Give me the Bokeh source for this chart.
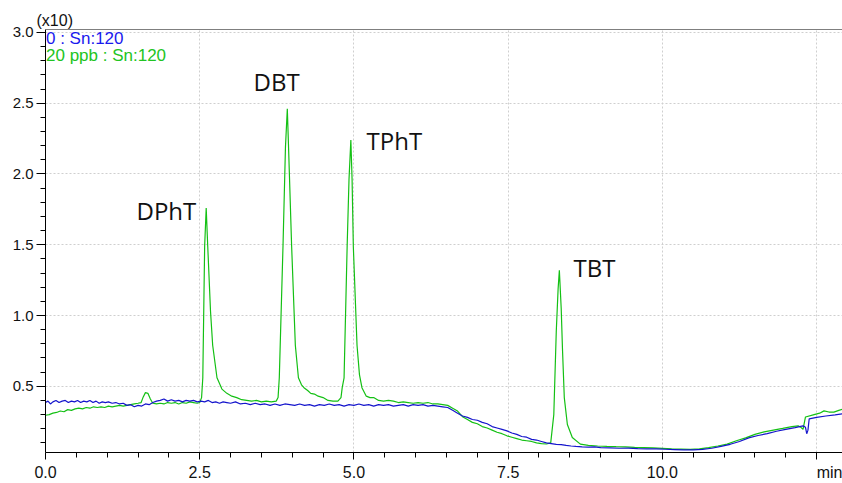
from bokeh.plotting import figure
from bokeh.models import FixedTicker, NumeralTickFormatter, Label, Span, Range1d
from bokeh.embed import file_html
from bokeh.resources import INLINE

# ---- data (retention time in min, intensity x10) ----
blank_t = [0.00, 0.04, 0.08, 0.12, 0.17, 0.22, 0.27, 0.32, 0.37, 0.42, 0.47, 0.52, 0.57, 0.62,
           0.67, 0.72, 0.77, 0.82, 0.87, 0.92, 0.97, 1.02, 1.08, 1.14, 1.20, 1.26, 1.32, 1.38,
           1.44, 1.50, 1.56, 1.62, 1.68, 1.74, 1.80, 1.86, 1.92, 1.98, 2.04, 2.10, 2.16, 2.22,
           2.28, 2.34, 2.40, 2.46, 2.52, 2.58, 2.64, 2.70, 2.76, 2.82, 2.88, 2.94, 3.00, 3.08,
           3.16, 3.24, 3.32, 3.40, 3.48, 3.56, 3.64, 3.72, 3.80, 3.88, 3.96, 4.04, 4.12, 4.20,
           4.28, 4.36, 4.44, 4.52, 4.60, 4.68, 4.76, 4.84, 4.92, 5.00, 5.08, 5.16, 5.24, 5.32,
           5.40, 5.48, 5.56, 5.64, 5.72, 5.80, 5.88, 5.96, 6.04, 6.12, 6.20, 6.28, 6.36, 6.44,
           6.52, 6.60, 6.68, 6.76, 6.84, 6.92, 7.00, 7.08, 7.16, 7.24, 7.32, 7.40, 7.48, 7.56,
           7.64, 7.72, 7.80, 7.88, 7.96, 8.04, 8.12, 8.20, 8.28, 8.36, 8.44, 8.52, 8.60, 8.70,
           8.80, 8.90, 9.00, 9.15, 9.30, 9.45, 9.60, 9.75, 9.90, 10.05, 10.20, 10.35, 10.50,
           10.65, 10.80, 10.95, 11.10, 11.25, 11.40, 11.55, 11.70, 11.85, 12.00, 12.15, 12.28,
           12.32, 12.34, 12.36, 12.38, 12.50, 12.65, 12.80, 12.92]
blank_v = [0.385, 0.395, 0.375, 0.390, 0.400, 0.385, 0.395, 0.400, 0.385, 0.395, 0.390, 0.400,
           0.385, 0.395, 0.390, 0.400, 0.385, 0.395, 0.380, 0.390, 0.385, 0.390, 0.380, 0.385,
           0.375, 0.380, 0.365, 0.370, 0.355, 0.365, 0.360, 0.375, 0.370, 0.385, 0.395, 0.400,
           0.410, 0.395, 0.405, 0.395, 0.400, 0.390, 0.400, 0.395, 0.400, 0.390, 0.395, 0.390,
           0.400, 0.385, 0.390, 0.380, 0.390, 0.385, 0.380, 0.390, 0.375, 0.380, 0.370, 0.380,
           0.370, 0.375, 0.365, 0.375, 0.365, 0.375, 0.370, 0.365, 0.375, 0.365, 0.370, 0.360,
           0.370, 0.365, 0.375, 0.365, 0.370, 0.360, 0.370, 0.365, 0.375, 0.365, 0.370, 0.360,
           0.370, 0.365, 0.370, 0.360, 0.365, 0.370, 0.360, 0.370, 0.365, 0.370, 0.360, 0.365,
           0.360, 0.355, 0.350, 0.330, 0.310, 0.290, 0.280, 0.265, 0.260, 0.245, 0.235, 0.215,
           0.205, 0.195, 0.185, 0.170, 0.160, 0.145, 0.140, 0.125, 0.120, 0.110, 0.100, 0.095,
           0.090, 0.088, 0.082, 0.078, 0.075, 0.072, 0.070, 0.072, 0.066, 0.064, 0.062, 0.063,
           0.060, 0.058, 0.057, 0.055, 0.053, 0.051, 0.050, 0.054, 0.062, 0.075, 0.090, 0.110,
           0.135, 0.152, 0.165, 0.182, 0.195, 0.208, 0.220, 0.210, 0.165, 0.190, 0.270, 0.280,
           0.290, 0.298, 0.305]

std_t = [0.00, 0.06, 0.12, 0.18, 0.24, 0.30, 0.36, 0.42, 0.48, 0.54, 0.60, 0.66, 0.72, 0.78,
         0.84, 0.90, 0.96, 1.02, 1.08, 1.14, 1.20, 1.26, 1.32, 1.38, 1.44, 1.50, 1.55, 1.58,
         1.62, 1.66, 1.70, 1.74, 1.80, 1.86, 1.92, 1.98, 2.04, 2.10, 2.16, 2.22, 2.28, 2.34,
         2.40, 2.46, 2.50, 2.53, 2.55, 2.58, 2.605, 2.63, 2.675, 2.71, 2.78, 2.86, 2.94, 3.02,
         3.10, 3.18, 3.26, 3.34, 3.42, 3.50, 3.58, 3.66, 3.74, 3.77, 3.79, 3.85, 3.89, 3.92,
         3.94, 3.99, 4.05, 4.10, 4.15, 4.19, 4.25, 4.30, 4.36, 4.42, 4.50, 4.58, 4.66, 4.74,
         4.79, 4.81, 4.84, 4.89, 4.92, 4.95, 4.97, 4.99, 5.05, 5.09, 5.13, 5.20, 5.26, 5.32,
         5.40, 5.48, 5.56, 5.64, 5.72, 5.80, 5.88, 5.96, 6.04, 6.12, 6.20, 6.28, 6.36, 6.44,
         6.52, 6.60, 6.68, 6.76, 6.84, 6.92, 7.00, 7.08, 7.16, 7.24, 7.32, 7.40, 7.48, 7.56,
         7.64, 7.72, 7.80, 7.88, 7.96, 8.04, 8.12, 8.19, 8.24, 8.28, 8.31, 8.33, 8.36, 8.38,
         8.41, 8.46, 8.54, 8.67, 8.80, 8.95, 9.10, 9.25, 9.40, 9.55, 9.70, 9.85, 10.00, 10.15,
         10.30, 10.45, 10.60, 10.75, 10.90, 11.05, 11.20, 11.35, 11.50, 11.65, 11.80, 11.95,
         12.10, 12.20, 12.25, 12.28, 12.32, 12.46, 12.55, 12.62, 12.70, 12.78, 12.86, 12.92]
std_v = [0.295, 0.300, 0.310, 0.315, 0.325, 0.320, 0.335, 0.330, 0.340, 0.345, 0.340, 0.350,
         0.345, 0.355, 0.350, 0.355, 0.350, 0.360, 0.355, 0.360, 0.365, 0.360, 0.365, 0.370,
         0.375, 0.380, 0.385, 0.420, 0.455, 0.450, 0.410, 0.380, 0.375, 0.380, 0.375, 0.385,
         0.380, 0.385, 0.375, 0.385, 0.380, 0.390, 0.385, 0.380, 0.385, 0.420, 0.560, 1.490,
         1.760, 1.490, 1.030, 0.790, 0.560, 0.480, 0.450, 0.430, 0.420, 0.405, 0.400, 0.395,
         0.400, 0.390, 0.395, 0.390, 0.395, 0.420, 0.560, 1.490, 2.190, 2.460, 2.190, 1.490,
         0.790, 0.560, 0.510, 0.490, 0.470, 0.450, 0.445, 0.430, 0.420, 0.400, 0.395, 0.395,
         0.420, 0.490, 0.560, 1.490, 1.960, 2.240, 1.960, 1.490, 0.790, 0.580, 0.490, 0.430,
         0.420, 0.420, 0.400, 0.395, 0.400, 0.395, 0.385, 0.390, 0.385, 0.380, 0.385, 0.380,
         0.385, 0.375, 0.375, 0.370, 0.365, 0.345, 0.325, 0.285, 0.265, 0.245, 0.235, 0.215,
         0.205, 0.190, 0.175, 0.165, 0.150, 0.140, 0.130, 0.120, 0.115, 0.110, 0.100, 0.095,
         0.092, 0.100, 0.300, 0.887, 1.190, 1.320, 1.050, 0.770, 0.420, 0.230, 0.138, 0.091,
         0.083, 0.078, 0.075, 0.073, 0.072, 0.068, 0.066, 0.064, 0.061, 0.058, 0.056, 0.054,
         0.058, 0.066, 0.078, 0.091, 0.115, 0.135, 0.160, 0.178, 0.190, 0.202, 0.215, 0.220,
         0.208, 0.196, 0.283, 0.300, 0.310, 0.326, 0.318, 0.317, 0.330, 0.337]

peak_names = ["DPhT", "DBT", "TPhT", "TBT"]
peak_label_x = [1.475, 3.372, 5.204, 8.560]
peak_label_y = [1.744, 2.651, 2.240, 1.338]

series_names = ["0 : Sn:120", "20 ppb : Sn:120"]
x_major = [0.0, 2.5, 5.0, 7.5, 10.0, 12.5]
x_minor = [0.5, 1.0, 1.5, 2.0, 3.0, 3.5, 4.0, 4.5, 5.5, 6.0, 6.5, 7.0, 8.0, 8.5, 9.0, 9.5,
           10.5, 11.0, 11.5, 12.0]
y_major = [0.5, 1.0, 1.5, 2.0, 2.5, 3.0]
y_minor = [0.1, 0.2, 0.3, 0.4, 0.6, 0.7, 0.8, 0.9, 1.1, 1.2, 1.3, 1.4, 1.6, 1.7, 1.8, 1.9,
           2.1, 2.2, 2.3, 2.4, 2.6, 2.7, 2.8, 2.9]
x_unit_label = "\u00a0\u00a0\u00a0\u00a0\u00a0\u00a0min"
y_scale_label = "(x10)"

BLUE = "#1414CC"
GREEN = "#14C014"
TICK_FONT = "Liberation Sans"

p = figure(width=842, height=483, output_backend="svg", toolbar_location=None,
           x_range=Range1d(0, 12.92), y_range=Range1d(0.032, 3.021),
           min_border_left=45, min_border_right=0, min_border_top=29, min_border_bottom=28)
p.outline_line_color = None
p.background_fill_color = "white"
p.border_fill_color = "white"

p.title.text = y_scale_label
p.title.align = "left"
p.title.offset = -9
p.title.standoff = 2
p.title.text_font = TICK_FONT
p.title.text_font_size = "16px"
p.title.text_font_style = "normal"
p.title.text_color = "#111111"

xa = p.xaxis[0]
xa.ticker = FixedTicker(ticks=x_major, minor_ticks=x_minor)
xa.formatter = NumeralTickFormatter(format="0.0")
xa.major_label_overrides = {12.5: x_unit_label}
xa.major_tick_in = 0
xa.major_tick_out = 7
xa.minor_tick_in = 0
xa.minor_tick_out = 5
xa.major_label_standoff = 4
xa.major_label_text_font = TICK_FONT
xa.major_label_text_font_size = "16px"
xa.major_label_text_color = "#111111"

ya = p.yaxis[0]
ya.ticker = FixedTicker(ticks=y_major, minor_ticks=y_minor)
ya.formatter = NumeralTickFormatter(format="0.0")
ya.major_tick_in = 0
ya.major_tick_out = 9
ya.minor_tick_in = 0
ya.minor_tick_out = 5
ya.major_label_standoff = 3
ya.major_label_text_font = TICK_FONT
ya.major_label_text_font_size = "15px"
ya.major_label_text_color = "#111111"

for ax in (xa, ya):
    ax.axis_line_color = "black"
    ax.major_tick_line_color = "black"
    ax.minor_tick_line_color = "black"

p.xgrid.ticker = FixedTicker(ticks=x_major)
p.ygrid.ticker = FixedTicker(ticks=y_major)
for g in (p.xgrid[0], p.ygrid[0]):
    g.grid_line_color = "#cfcfcf"
    g.grid_line_dash = "2 2"
    g.grid_line_width = 1

p.line(std_t, std_v, line_color=GREEN, line_width=1.2)
p.line(blank_t, blank_v, line_color=BLUE, line_width=1.2)

p.add_layout(Span(location=3.021, dimension="width", line_color="black", line_width=1))

for name, lx, ly in zip(peak_names, peak_label_x, peak_label_y):
    p.add_layout(Label(x=lx, y=ly, text=name, text_font="Open Sans", text_font_size="24px",
                       text_color="#111111", text_baseline="alphabetic", text_align="left"))

p.add_layout(Label(x=0.008, y=2.958, text=series_names[0], text_font=TICK_FONT,
                   text_font_size="17px", text_color="#1a1aee", text_baseline="alphabetic"))
p.add_layout(Label(x=0.008, y=2.835, text=series_names[1], text_font=TICK_FONT,
                   text_font_size="17px", text_color="#22c422", text_baseline="alphabetic"))

open("out.html", "w").write(file_html(p, INLINE))
